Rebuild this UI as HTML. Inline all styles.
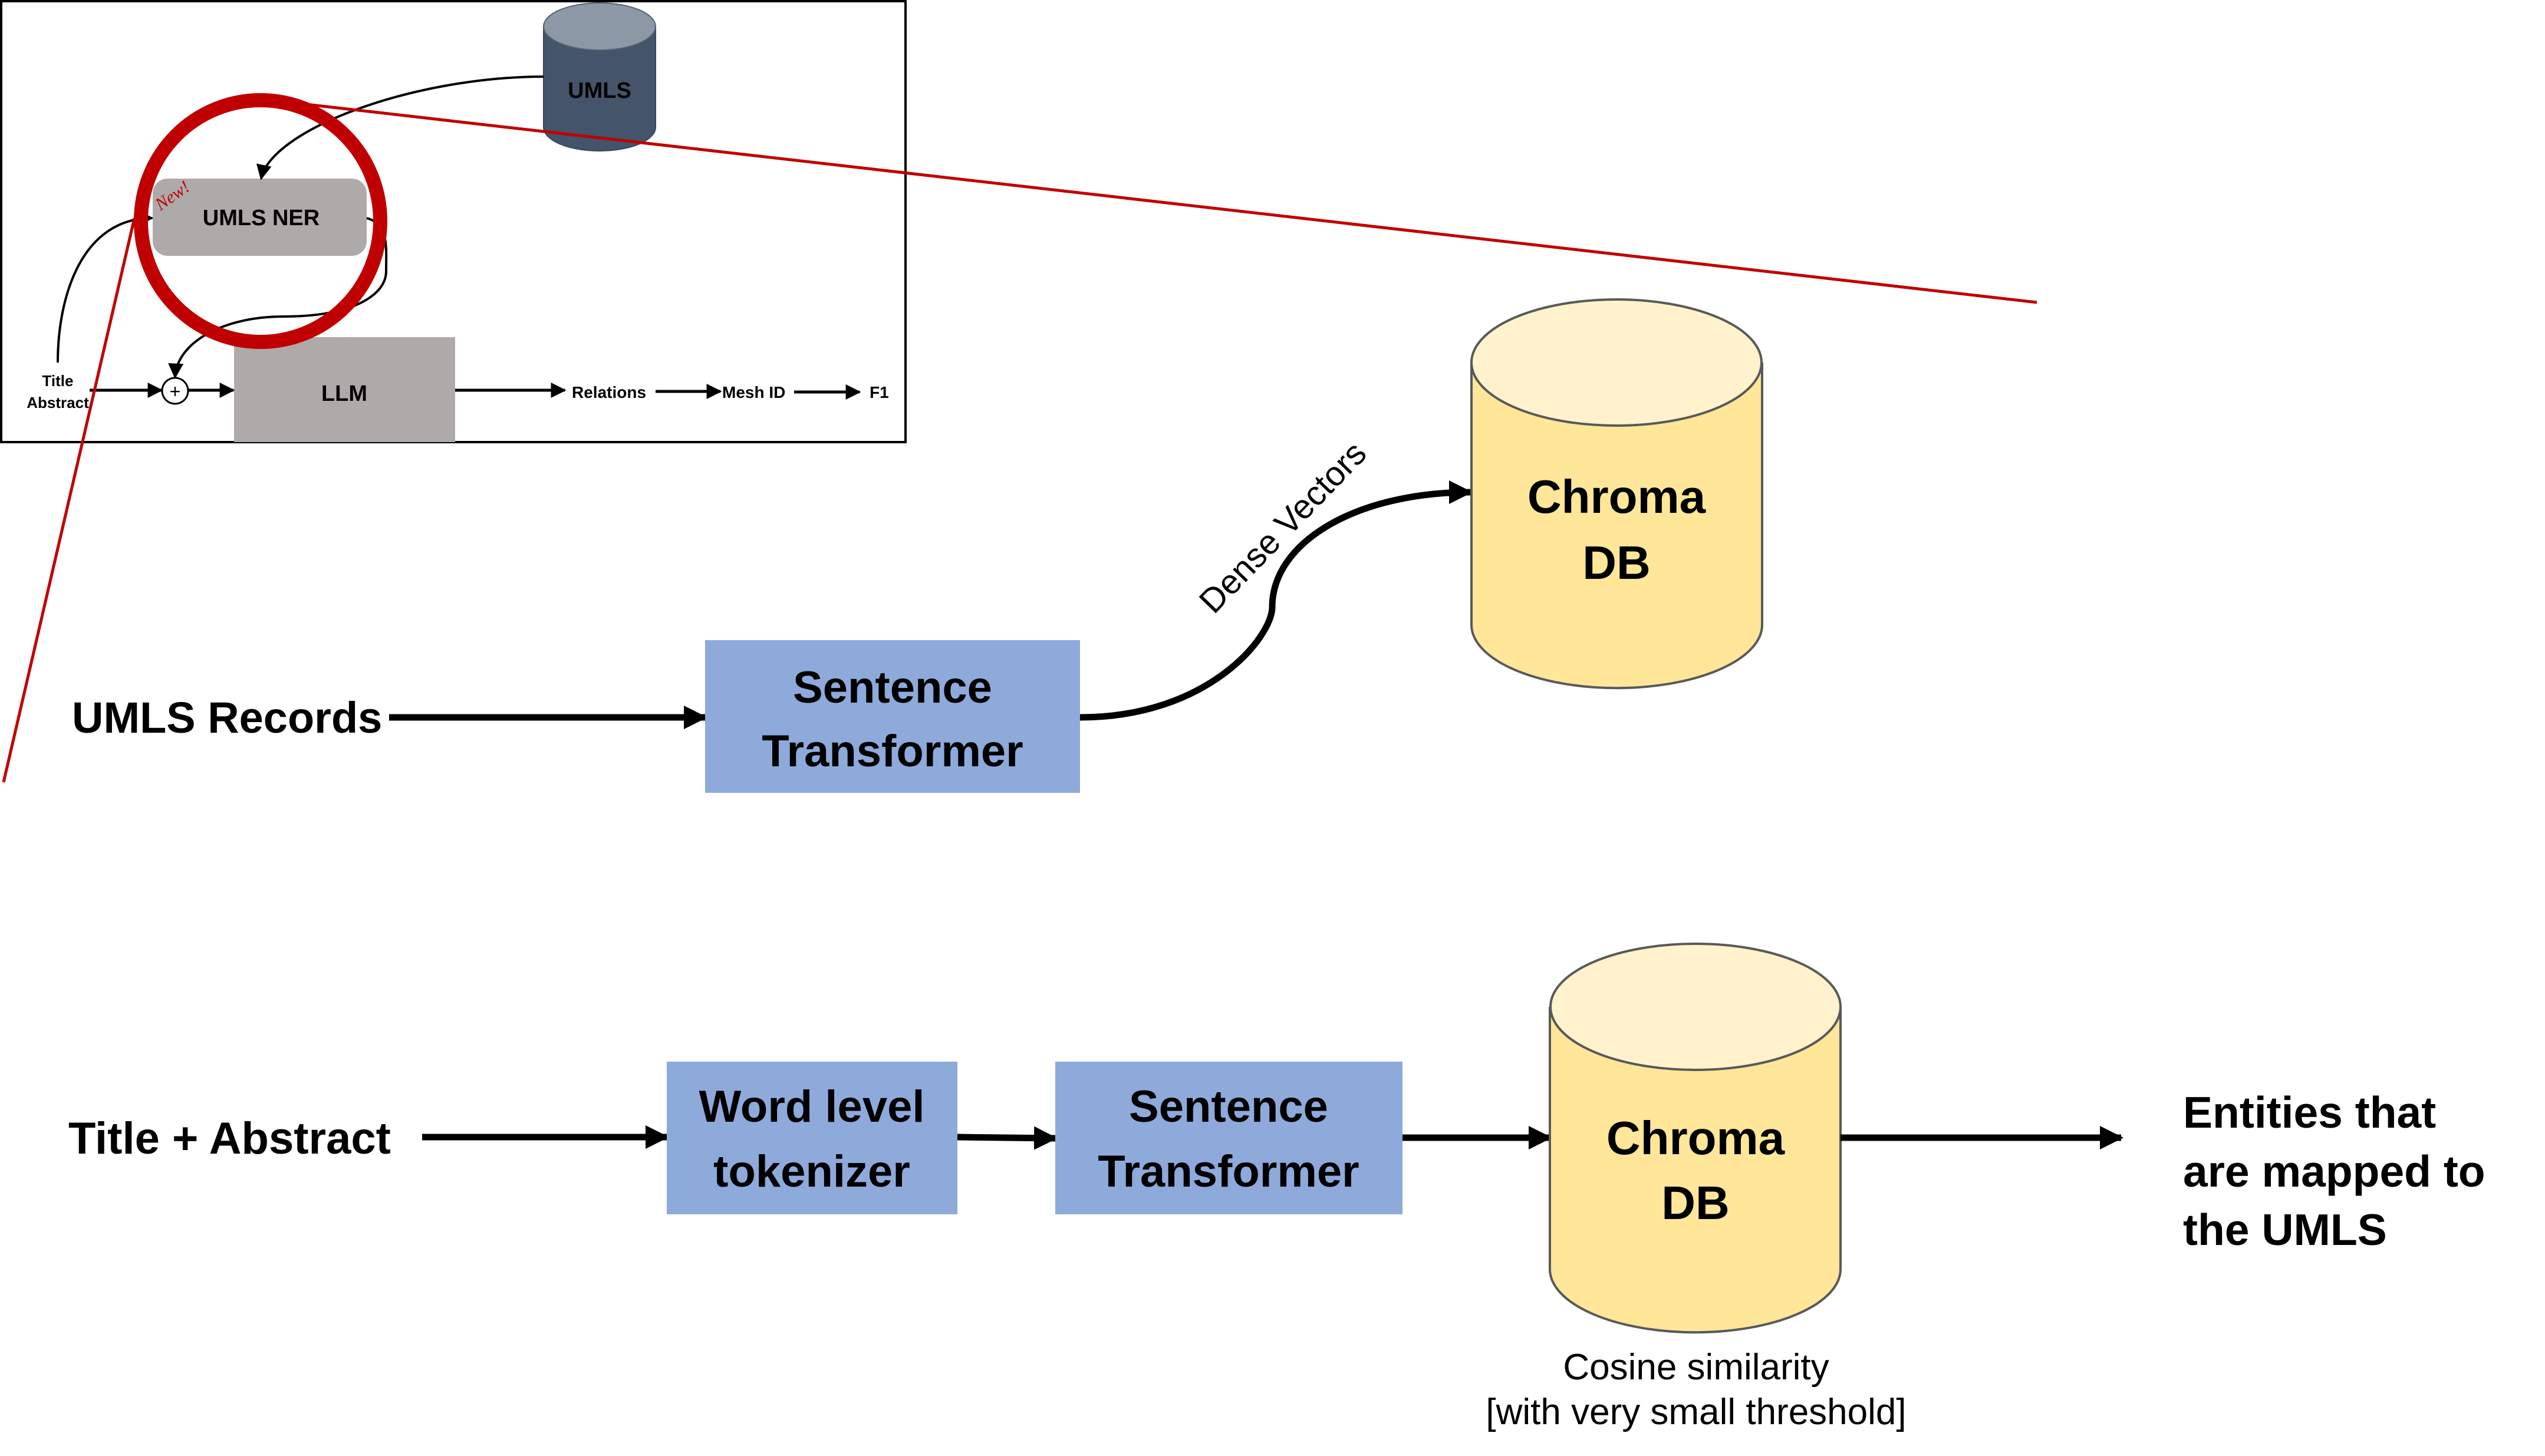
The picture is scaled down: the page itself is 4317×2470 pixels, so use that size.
<!DOCTYPE html>
<html><head><meta charset="utf-8"><style>html,body{margin:0;padding:0;background:#fff}svg{display:block}</style></head>
<body>
<svg width="4317" height="2470" viewBox="0 0 4317 2470" xmlns="http://www.w3.org/2000/svg" font-family="'Liberation Sans', sans-serif">
<defs>
<marker id="bA" viewBox="0 0 10 10" refX="9" refY="5" markerWidth="40" markerHeight="40" markerUnits="userSpaceOnUse" orient="auto"><path d="M0,0 L10,5 L0,10 z" fill="#000"/></marker>
<marker id="sA" viewBox="0 0 10 10" refX="9" refY="5" markerWidth="26" markerHeight="26" markerUnits="userSpaceOnUse" orient="auto"><path d="M0,0 L10,5 L0,10 z" fill="#000"/></marker>
</defs>
<!-- inset -->
<rect x="2" y="2" width="1534" height="748" fill="#fff" stroke="#000" stroke-width="4"/>
<!-- UMLS cylinder -->
<path d="M922,45 L922,216 A95,40 0 0 0 1112,216 L1112,45" fill="#44546a" stroke="#3a475a" stroke-width="2"/>
<ellipse cx="1017" cy="45" rx="95" ry="40" fill="#8d98a7" stroke="#55606f" stroke-width="2"/>
<text x="1017" y="166" font-size="38" font-weight="bold" text-anchor="middle">UMLS</text>
<!-- NER -->
<rect x="259" y="303" width="363" height="131" rx="25" fill="#aeaaaa"/>
<text x="443" y="382" font-size="38" font-weight="bold" text-anchor="middle">UMLS NER</text>
<text x="272" y="358" font-size="30" font-style="italic" fill="#c00000" font-family="'Liberation Serif', serif" transform="rotate(-35 272 358)">New!</text>
<!-- LLM -->
<rect x="397" y="572" width="375" height="178" fill="#aeaaaa"/>
<text x="584" y="680" font-size="38" font-weight="bold" text-anchor="middle">LLM</text>
<ellipse cx="297" cy="663" rx="22" ry="22" fill="#fff" stroke="#000" stroke-width="3"/>
<text x="297" y="675" font-size="32" text-anchor="middle">+</text>
<text x="98" y="655" font-size="26" font-weight="bold" text-anchor="middle">Title</text>
<text x="98" y="692" font-size="26" font-weight="bold" text-anchor="middle">Abstract</text>
<text x="970" y="675" font-size="28" font-weight="bold">Relations</text>
<text x="1225" y="675" font-size="28" font-weight="bold">Mesh ID</text>
<text x="1475" y="675" font-size="28" font-weight="bold">F1</text>
<g stroke="#000" stroke-width="5" fill="none" marker-end="url(#sA)">
<line x1="152" y1="662" x2="274" y2="662"/>
<line x1="320" y1="662" x2="396" y2="662"/>
<line x1="772" y1="662" x2="958" y2="662"/>
<line x1="1112" y1="664" x2="1222" y2="664"/>
<line x1="1347" y1="665" x2="1458" y2="665"/>
</g>
<g stroke="#000" stroke-width="4" fill="none" marker-end="url(#sA)">
<path d="M922,130 C700,130 460,220 443,303"/>
<path d="M98,615 C98,500 140,370 258,370"/>
<path d="M622,370 C660,380 655,420 655,460 C655,500 600,537 480,537 C380,537 300,580 297,640"/>
</g>
<!-- red -->
<ellipse cx="442" cy="375" rx="203" ry="205" fill="none" stroke="#c00000" stroke-width="24"/>
<line x1="520" y1="177" x2="3455" y2="513" stroke="#c00000" stroke-width="5"/>
<line x1="228" y1="370" x2="6" y2="1327" stroke="#c00000" stroke-width="5"/>
<!-- top pipeline -->
<text x="122" y="1243" font-size="74" font-weight="bold">UMLS Records</text>
<line x1="660" y1="1217" x2="1196" y2="1217" stroke="#000" stroke-width="11" marker-end="url(#bA)"/>
<rect x="1196" y="1086" width="636" height="259" fill="#8eaadb"/>
<text x="1514" y="1192" font-size="76" font-weight="bold" text-anchor="middle">Sentence</text>
<text x="1514" y="1300" font-size="76" font-weight="bold" text-anchor="middle">Transformer</text>
<path d="M1832,1217 C2050,1217 2158,1080 2158,1030 C2158,920 2300,835 2494,835" stroke="#000" stroke-width="11" fill="none" marker-end="url(#bA)"/>
<text x="2190" y="908" font-size="58" text-anchor="middle" transform="rotate(-46 2190 908)">Dense Vectors</text>
<path d="M2496,615 L2496,1060 A246,107 0 0 0 2989,1060 L2989,615" fill="#ffe699" stroke="#595959" stroke-width="4"/>
<ellipse cx="2742" cy="615" rx="246" ry="107" fill="#fff2cc" stroke="#595959" stroke-width="4"/>
<text x="2742" y="870" font-size="80" font-weight="bold" text-anchor="middle">Chroma</text>
<text x="2742" y="982" font-size="80" font-weight="bold" text-anchor="middle">DB</text>
<!-- bottom pipeline -->
<text x="116" y="1957" font-size="76" font-weight="bold">Title + Abstract</text>
<line x1="716" y1="1929" x2="1131" y2="1929" stroke="#000" stroke-width="11" marker-end="url(#bA)"/>
<rect x="1131" y="1801" width="493" height="259" fill="#8eaadb"/>
<text x="1377" y="1903" font-size="76" font-weight="bold" text-anchor="middle">Word level</text>
<text x="1377" y="2013" font-size="76" font-weight="bold" text-anchor="middle">tokenizer</text>
<line x1="1624" y1="1929" x2="1790" y2="1931" stroke="#000" stroke-width="11" marker-end="url(#bA)"/>
<rect x="1790" y="1801" width="589" height="259" fill="#8eaadb"/>
<text x="2084" y="1903" font-size="76" font-weight="bold" text-anchor="middle">Sentence</text>
<text x="2084" y="2013" font-size="76" font-weight="bold" text-anchor="middle">Transformer</text>
<line x1="2379" y1="1930" x2="2629" y2="1930" stroke="#000" stroke-width="11" marker-end="url(#bA)"/>
<path d="M2629,1708 L2629,2153 A246,107 0 0 0 3122,2153 L3122,1708" fill="#ffe699" stroke="#595959" stroke-width="4"/>
<ellipse cx="2876" cy="1708" rx="246" ry="107" fill="#fff2cc" stroke="#595959" stroke-width="4"/>
<text x="2876" y="1958" font-size="80" font-weight="bold" text-anchor="middle">Chroma</text>
<text x="2876" y="2068" font-size="80" font-weight="bold" text-anchor="middle">DB</text>
<line x1="3122" y1="1930" x2="3598" y2="1930" stroke="#000" stroke-width="11" marker-end="url(#bA)"/>
<text x="3703" y="1913" font-size="75" font-weight="bold">Entities that</text>
<text x="3703" y="2013" font-size="75" font-weight="bold">are mapped to</text>
<text x="3703" y="2112" font-size="75" font-weight="bold">the UMLS</text>
<text x="2877" y="2340" font-size="62" text-anchor="middle">Cosine similarity</text>
<text x="2877" y="2416" font-size="62" text-anchor="middle">[with very small threshold]</text>
</svg>
</body></html>
